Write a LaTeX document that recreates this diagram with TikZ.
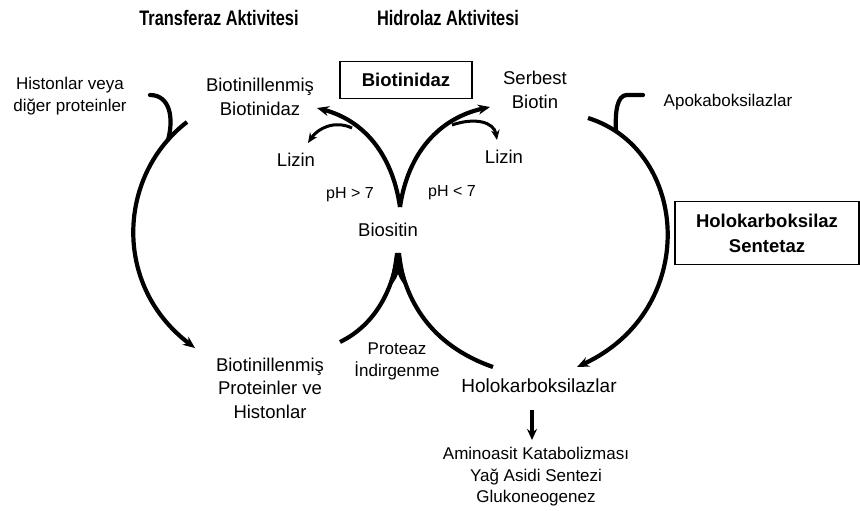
\documentclass[tikz,border=0pt]{standalone}
\usepackage{fontspec}
\setmainfont{Liberation Sans}
\newfontfamily\titlefont[FakeStretch=0.78]{Liberation Sans}
\usetikzlibrary{arrows.meta}
\begin{document}
\begin{tikzpicture}[x=1pt,y=-1pt,
  lbl/.style={inner sep=0pt,align=center,font=\fontsize{18.5}{24}\selectfont},
  sml/.style={inner sep=0pt,align=center,font=\fontsize{17}{22}\selectfont},
  ttl/.style={inner sep=0pt,font=\titlefont\bfseries\fontsize{21}{24}\selectfont},
  boxed/.style={draw,line width=1.5pt,inner sep=0pt,align=center,font=\bfseries\fontsize{18.5}{25}\selectfont},
  arc/.style={line width=4.2pt},
  arr/.style={line width=4.2pt,-{Stealth[length=12pt,width=10pt]}},
  thin/.style={line width=3pt,-{Stealth[length=10pt,width=8.5pt]}}]
\useasboundingbox (0,0) rectangle (860,511);
% titles
\node[ttl] (tt) at (219,18) {Transferaz Aktivitesi};
\node[ttl] (ht) at (448,18) {Hidrolaz Aktivitesi};
% boxes
\node[boxed,minimum width=132pt,minimum height=37pt] (bz) at (406,80) {Biotinidaz};
\node[boxed,minimum width=184pt,minimum height=63pt] (hs) at (767,233) {Holokarboksilaz\\Sentetaz};
% labels
\node[sml] (hist) at (70,96) {Histonlar veya\\diğer proteinler};
\node[lbl] (bbz) at (260,97) {Biotinillenmiş\\Biotinidaz};
\node[lbl] (lizL) at (296,160) {Lizin};
\node[lbl] (lizR) at (504,157) {Lizin};
\node[sml,font=\fontsize{16}{20}\selectfont] (phg) at (350,195) {pH > 7};
\node[sml,font=\fontsize{16}{20}\selectfont] (phl) at (452,193) {pH < 7};
\node[lbl] (bios) at (388,230) {Biositin};
\node[lbl] (serb) at (535,90) {Serbest\\Biotin};
\node[sml] (apo) at (728,102) {Apokaboksilazlar};
\node[lbl,font=\fontsize{18.5}{23.5}\selectfont] (bpro) at (270,388) {Biotinillenmiş\\Proteinler ve\\Histonlar};
\node[sml] (prot) at (397,361) {Proteaz\\İndirgenme};
\node[lbl,font=\fontsize{19}{24}\selectfont] (holo) at (539,386) {Holokarboksilazlar};
\node[sml,font=\fontsize{17}{21.5}\selectfont] (amino) at (536,477) {Aminoasit Katabolizması\\Yağ Asidi Sentezi\\Glukoneogenez};
% coordinates for arc ends
\coordinate (la1) at (187,122);
\coordinate (la2) at (195,348);
\coordinate (lh) at (150,95);
\coordinate (lj) at (168,140);
\coordinate (ra1) at (588,118);
\coordinate (ra2) at (577,367);
\coordinate (rh) at (643,95);
\coordinate (rj) at (616,131);
\coordinate (vb) at (400,207);
\coordinate (tl) at (317,108);
\coordinate (tr) at (490,107);
\coordinate (bl) at (452,125);
\coordinate (brl) at (352,128);
\coordinate (lzl) at (308,143);
\coordinate (lzr) at (497,140);
\coordinate (pk) at (398,253);
\coordinate (bL) at (340,342);
\coordinate (bR) at (493,367);
\coordinate (d1) at (532,410);
\coordinate (d2) at (532,440);
% left big cycle
\draw[arr] (la1) .. controls (118,175) and (112,285) .. (la2);
\draw[arc,line cap=round] (lh) .. controls (170,95) and (174,118) .. (lj);
% right big cycle
\draw[arr] (ra1) .. controls (690,150) and (700,310) .. (ra2);
\draw[arc,line cap=round] (rh) -- (627,95) .. controls (617,95) and (615,112) .. (rj);
% inner top arcs
\draw[arr] (vb) .. controls (392,152) and (362,120) .. (tl);
\draw[arr] (vb) .. controls (408,152) and (440,118) .. (tr);
\draw[thin] (brl) .. controls (335,120) and (318,128) .. (lzl);
\draw[thin] (bl) .. controls (475,117) and (494,122) .. (lzr);
% inner bottom arcs
\draw[arc] (bL) .. controls (375,325) and (393,290) .. (pk);
\draw[arc] (pk) .. controls (405,300) and (430,345) .. (bR);
\fill (395,253) -- (401,253) .. controls (403,268) and (405,280) .. (409,289)
  .. controls (404,285) and (400,280) .. (398,274)
  .. controls (396,280) and (392,285) .. (387,289)
  .. controls (391,280) and (393,268) .. (395,253) -- cycle;
% down arrow
\draw[line width=3.2pt,-{Stealth[length=11pt,width=10pt]}] (d1) -- (d2);
\end{tikzpicture}
\end{document}
